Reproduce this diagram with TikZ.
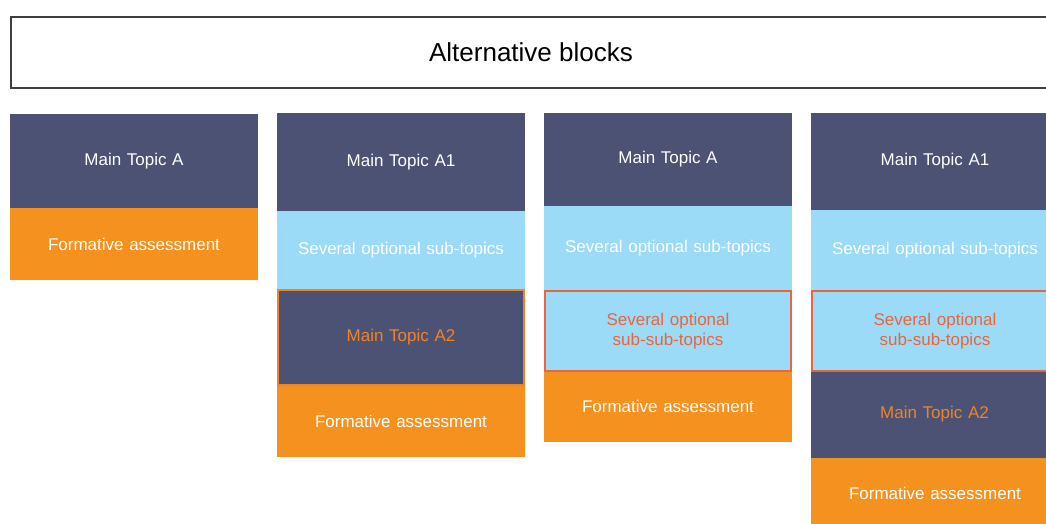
\documentclass[tikz,border=0pt]{standalone}
\usepackage{fontspec}
\setmainfont{Liberation Sans}
\definecolor{topicdark}{HTML}{4C5273}
\definecolor{assessorange}{HTML}{F5921F}
\definecolor{subblue}{HTML}{9BDBF7}
\definecolor{subsubred}{HTML}{E9653D}
\definecolor{atwoorange}{HTML}{EE8428}
\definecolor{framegray}{HTML}{3E3E3E}
\begin{document}
\begin{tikzpicture}[x=1pt,y=-1pt,
  block/.style={rectangle, anchor=north west, inner sep=0pt, outer sep=0pt,
    minimum width=248pt, text width=240pt, align=center,
    font=\fontsize{17}{20}\selectfont},
  maintopic/.style={block, fill=topicdark, text=white},
  assessment/.style={block, fill=assessorange, text=white},
  subtopics/.style={block, fill=subblue, text=white},
  subsubtopics/.style={block, fill=subblue, text=subsubred, draw=subsubred, line width=2pt},
  secondtopic/.style={block, fill=topicdark, text=atwoorange, draw=atwoorange, line width=1.6pt},
  titlebox/.style={rectangle, anchor=north west, inner sep=0pt, draw=framegray,
    line width=1.8pt, fill=white, minimum width=1060pt, minimum height=71pt}]
\useasboundingbox (0,0) rectangle (1046,523);
\fill[white] (0,0) rectangle (1046,523);
\clip (0,0) rectangle (1046,523);

% heading band, running off the right edge
\node[titlebox] (title) at (10,16) {};
\node (titletext) at (531,52) {\fontsize{26}{30}\selectfont Alternative blocks};

% column 1
\node[maintopic, minimum height=94pt] (c1main) at (10,114) {Main Topic A};
\node[assessment, minimum height=72pt] (c1form) at (10,208) {Formative assessment};

% column 2
\node[maintopic, minimum height=98pt] (c2main) at (277,113) {Main Topic A1};
\node[subtopics, minimum height=78pt] (c2sub) at (277,211) {Several optional sub-topics};
\node[assessment, minimum height=72pt] (c2form) at (277,385) {Formative assessment};
\node[secondtopic, minimum height=95pt, minimum width=246pt] (c2second) at (278,290) {Main Topic A2};

% column 3
\node[maintopic, minimum height=93pt] (c3main) at (544,113) {Main Topic A};
\node[subtopics, minimum height=84pt] (c3sub) at (544,206) {Several optional sub-topics};
\node[assessment, minimum height=72pt] (c3form) at (544,370) {Formative assessment};
\node[subsubtopics, minimum height=80pt, minimum width=246pt] (c3subsub) at (545,291) {Several optional\\sub-sub-topics};

% column 4
\node[maintopic, minimum height=97pt] (c4main) at (811,113) {Main Topic A1};
\node[subtopics, minimum height=80pt] (c4sub) at (811,210) {Several optional sub-topics};
\node[assessment, minimum height=70pt] (c4form) at (811,458) {Formative assessment};
\node[secondtopic, minimum height=88pt, minimum width=247pt, draw=none] (c4second) at (811,370) {Main Topic A2};
\draw[atwoorange, line width=1.6pt] (c4second.north west) -- (c4second.north east);
\node[subsubtopics, minimum height=80pt, minimum width=246pt] (c4subsub) at (812,291) {Several optional\\sub-sub-topics};
\end{tikzpicture}
\end{document}
